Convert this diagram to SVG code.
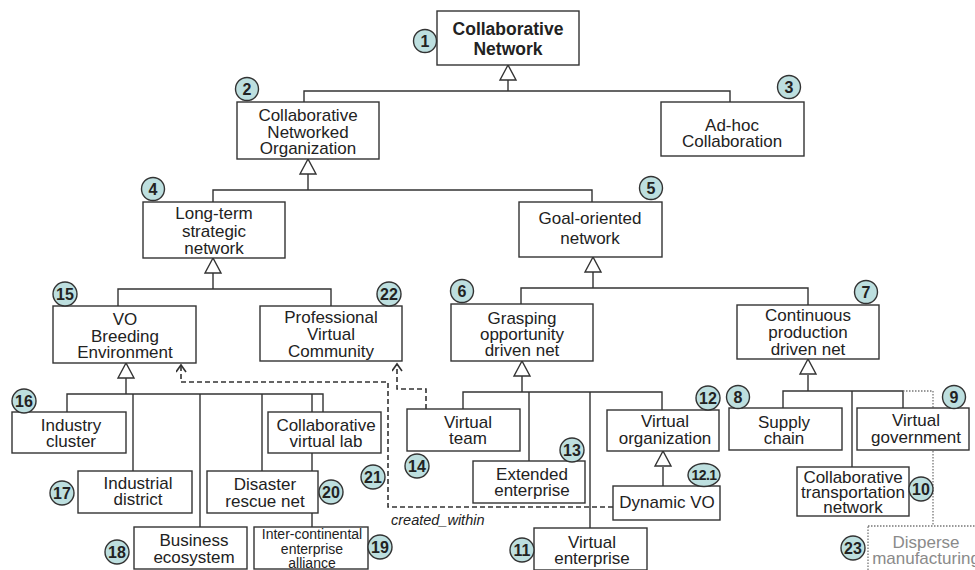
<svg xmlns="http://www.w3.org/2000/svg" xmlns:xlink="http://www.w3.org/1999/xlink" width="975" height="570" viewBox="0 0 975 570">
<style>
.box{fill:#fff;stroke:#333;stroke-width:1.4}
.dot{fill:#fff;stroke:#777;stroke-width:1.3;stroke-dasharray:1.5 1.5}
.t{font-family:"Liberation Sans",Arial,sans-serif;font-size:17px;fill:#222;text-anchor:middle}
.tb{font-weight:bold;font-size:17.5px}
.ts{font-size:14px}
.tg{fill:#8a8a8a}
.badge{fill:#bddfdf;stroke:#333;stroke-width:1.4}
.bn{font-family:"Liberation Sans",Arial,sans-serif;font-weight:bold;font-size:16px;fill:#222;text-anchor:middle}
.ln{stroke:#333;stroke-width:1.4;fill:none}
.dash{stroke:#333;stroke-width:1.6;stroke-dasharray:5 3;fill:none}
.dotl{stroke:#777;stroke-width:1.3;stroke-dasharray:1.5 1.5;fill:none}
.tri{fill:#fff;stroke:#333;stroke-width:1.4}
.lbl{font-family:"Liberation Sans",Arial,sans-serif;font-size:14.5px;font-style:italic;fill:#222}
</style>
<defs>
<polygon id="tri" class="tri" points="0,0 -8,15 8,15"/>
<marker id="open" markerUnits="userSpaceOnUse" markerWidth="12" markerHeight="12" refX="8" refY="5" orient="auto">
<path d="M1,0 L8,5 L1,10" fill="none" stroke="#333" stroke-width="1.6"/>
</marker>
</defs>
<g id="connectors">
<path class="ln" d="M508,80 V91 M304,102 V91 H730 V102"/>
<path class="ln" d="M308,173 V190 M213,202 V190 H592 V202"/>
<path class="ln" d="M213,273 V289 M118,306 V289 H331 V306"/>
<path class="ln" d="M593,272 V288 M521,304 V288 H808 V305"/>
<path class="ln" d="M126,377 V394 M67,412 V394 H323 V412 M133,394 V471 M200,394 V527 M262,394 V471 M312,394 V527"/>
<path class="ln" d="M522,376 V392 M463,409 V392 H662 V410 M529,392 V461 M590,392 V528"/>
<path class="ln" d="M663,467 V486"/>
<path class="ln" d="M808,375 V391 M783,408 V391 H903 V408 M852,391 V467"/>
<path class="dotl" d="M903,391 H933 V526"/>
<use xlink:href="#tri" x="508" y="65"/>
<use xlink:href="#tri" x="308" y="159"/>
<use xlink:href="#tri" x="213" y="258"/>
<use xlink:href="#tri" x="593" y="257"/>
<use xlink:href="#tri" x="126" y="363"/>
<use xlink:href="#tri" x="522" y="361"/>
<use xlink:href="#tri" x="663" y="451"/>
<use xlink:href="#tri" x="808" y="359"/>
<path class="dash" d="M613,507 H388 V382 H181 V365" marker-end="url(#open)"/>
<path class="dash" d="M426,409 V389 H397 V364" marker-end="url(#open)"/>
<text class="lbl" x="391" y="525">created_within</text>
</g>
<g id="n1"><rect class="box" x="437" y="11" width="142" height="54"/><text class="t tb" x="508" y="35">Collaborative</text><text class="t tb" x="508" y="55">Network</text><circle class="badge" cx="425" cy="41" r="11.5"/><text class="bn" x="425" y="47">1</text></g>
<g id="n2"><rect class="box" x="237" y="102" width="142" height="57"/><text class="t" x="308" y="121">Collaborative</text><text class="t" x="308" y="138">Networked</text><text class="t" x="308" y="154">Organization</text><circle class="badge" cx="247" cy="89" r="11.5"/><text class="bn" x="247" y="95">2</text></g>
<g id="n3"><rect class="box" x="661" y="102" width="143" height="54"/><text class="t" x="732" y="131">Ad-hoc</text><text class="t" x="732" y="147">Collaboration</text><circle class="badge" cx="789" cy="87" r="11.5"/><text class="bn" x="789" y="93">3</text></g>
<g id="n4"><rect class="box" x="143" y="202" width="142" height="56"/><text class="t" x="214" y="219">Long-term</text><text class="t" x="214" y="237">strategic</text><text class="t" x="214" y="254">network</text><circle class="badge" cx="153" cy="189" r="11.5"/><text class="bn" x="153" y="195">4</text></g>
<g id="n5"><rect class="box" x="519" y="202" width="143" height="55"/><text class="t" x="590" y="224">Goal-oriented</text><text class="t" x="590" y="244">network</text><circle class="badge" cx="651" cy="188" r="11.5"/><text class="bn" x="651" y="194">5</text></g>
<g id="n15"><rect class="box" x="53" y="306" width="143" height="57"/><text class="t" x="125" y="325">VO</text><text class="t" x="125" y="342">Breeding</text><text class="t" x="125" y="358">Environment</text><circle class="badge" cx="65" cy="294" r="12"/><text class="bn" x="65" y="300">15</text></g>
<g id="n22"><rect class="box" x="260" y="306" width="142" height="55"/><text class="t" x="331" y="323">Professional</text><text class="t" x="331" y="340">Virtual</text><text class="t" x="331" y="357">Community</text><circle class="badge" cx="389" cy="294" r="12"/><text class="bn" x="389" y="300">22</text></g>
<g id="n6"><rect class="box" x="451" y="304" width="142" height="57"/><text class="t" x="522" y="324">Grasping</text><text class="t" x="522" y="340">opportunity</text><text class="t" x="522" y="356">driven net</text><circle class="badge" cx="462" cy="291" r="11.5"/><text class="bn" x="462" y="297">6</text></g>
<g id="n7"><rect class="box" x="737" y="305" width="142" height="54"/><text class="t" x="808" y="321">Continuous</text><text class="t" x="808" y="338">production</text><text class="t" x="808" y="355">driven net</text><circle class="badge" cx="866" cy="292" r="11.5"/><text class="bn" x="866" y="298">7</text></g>
<g id="n16"><rect class="box" x="12" y="412" width="114" height="41"/><text class="t" x="71" y="431">Industry</text><text class="t" x="71" y="447">cluster</text><circle class="badge" cx="24" cy="401" r="12"/><text class="bn" x="24" y="407">16</text></g>
<g id="n17"><rect class="box" x="78" y="471" width="114" height="42"/><text class="t" x="138" y="489">Industrial</text><text class="t" x="138" y="505">district</text><circle class="badge" cx="62" cy="493" r="12"/><text class="bn" x="62" y="499">17</text></g>
<g id="n18"><rect class="box" x="134" y="527" width="113" height="42"/><text class="t" x="194" y="546">Business</text><text class="t" x="194" y="563">ecosystem</text><circle class="badge" cx="117" cy="552" r="12"/><text class="bn" x="117" y="558">18</text></g>
<g id="n21"><rect class="box" x="268" y="412" width="113" height="41"/><text class="t" x="326" y="431">Collaborative</text><text class="t" x="326" y="447">virtual lab</text><circle class="badge" cx="373" cy="477" r="12"/><text class="bn" x="373" y="483">21</text></g>
<g id="n20"><rect class="box" x="207" y="471" width="111" height="42"/><text class="t" x="265" y="490">Disaster</text><text class="t" x="265" y="507">rescue net</text><circle class="badge" cx="331" cy="492" r="12"/><text class="bn" x="331" y="498">20</text></g>
<g id="n19"><rect class="box" x="254" y="527" width="114" height="42"/><text class="t ts" x="312" y="539">Inter-continental</text><text class="t ts" x="312" y="554">enterprise</text><text class="t ts" x="312" y="568">alliance</text><circle class="badge" cx="380" cy="547" r="12"/><text class="bn" x="380" y="553">19</text></g>
<g id="n14"><rect class="box" x="407" y="409" width="113" height="42"/><text class="t" x="468" y="428">Virtual</text><text class="t" x="468" y="444">team</text><circle class="badge" cx="417" cy="466" r="12"/><text class="bn" x="417" y="472">14</text></g>
<g id="n13"><rect class="box" x="473" y="461" width="112" height="42"/><text class="t" x="532" y="480">Extended</text><text class="t" x="532" y="496">enterprise</text><circle class="badge" cx="572" cy="450" r="12"/><text class="bn" x="572" y="456">13</text></g>
<g id="n11"><rect class="box" x="534" y="528" width="113" height="42"/><text class="t" x="592" y="548">Virtual</text><text class="t" x="592" y="564">enterprise</text><circle class="badge" cx="522" cy="550" r="12"/><text class="bn" x="522" y="556">11</text></g>
<g id="n12"><rect class="box" x="607" y="410" width="112" height="41"/><text class="t" x="665" y="427">Virtual</text><text class="t" x="665" y="444">organization</text><circle class="badge" cx="708" cy="398" r="12"/><text class="bn" x="708" y="404">12</text></g>
<g id="n12_1"><rect class="box" x="613" y="486" width="107" height="34"/><text class="t" x="667" y="508">Dynamic VO</text><ellipse class="badge" cx="704" cy="475" rx="16" ry="11.5"/><text class="bn" x="704" y="480" style="font-size:14px;letter-spacing:-0.5px">12.1</text></g>
<g id="n8"><rect class="box" x="729" y="408" width="113" height="42"/><text class="t" x="784" y="428">Supply</text><text class="t" x="784" y="444">chain</text><circle class="badge" cx="738" cy="397" r="11.5"/><text class="bn" x="738" y="403">8</text></g>
<g id="n9"><rect class="box" x="857" y="408" width="112" height="42"/><text class="t" x="916" y="426">Virtual</text><text class="t" x="916" y="443">government</text><circle class="badge" cx="954" cy="397" r="11.5"/><text class="bn" x="954" y="403">9</text></g>
<g id="n10"><rect class="box" x="797" y="467" width="112" height="49"/><text class="t" x="853" y="483">Collaborative</text><text class="t" x="853" y="498">transportation</text><text class="t" x="853" y="513">network</text><circle class="badge" cx="921" cy="489" r="12"/><text class="bn" x="921" y="495">10</text></g>
<g id="n23"><rect class="dot" x="868" y="526" width="115" height="48"/><text class="t tg" x="926" y="548">Disperse</text><text class="t tg" x="926" y="564">manufacturing</text><circle class="badge" cx="853" cy="548" r="12"/><text class="bn" x="853" y="554">23</text></g>
</svg>
